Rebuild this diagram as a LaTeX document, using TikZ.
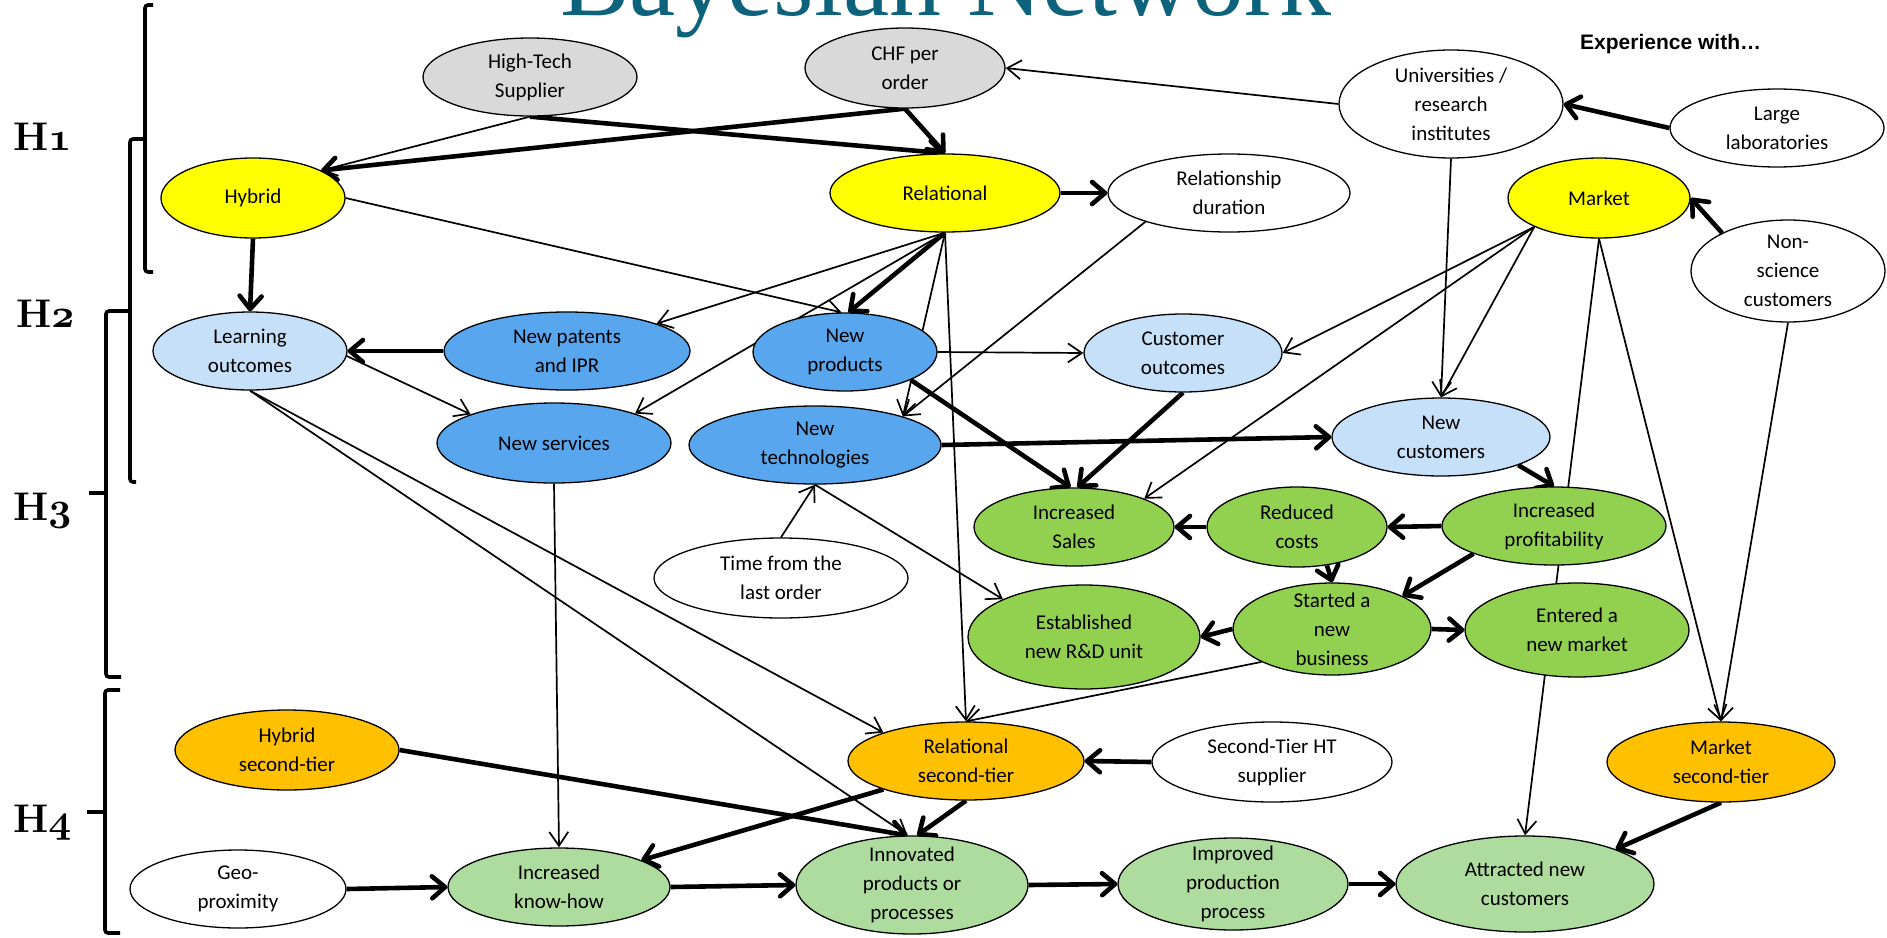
\documentclass[tikz,border=0pt]{standalone}
\usepackage{fontspec}
\usepackage{graphicx}
\usetikzlibrary{shapes.geometric,arrows.meta,backgrounds}
\newfontfamily\nodefont{Carlito}
\newfontfamily\capfont{Liberation Sans}
\newfontfamily\titlefont{Liberation Serif}
% old-style figures from the bold math italic font, set at 10pt and enlarged to 40bp
\newcommand{\osf}[1]{\scalebox{4.015}{\fontsize{10pt}{12pt}\usefont{OML}{cmm}{b}{it}#1}}
\definecolor{titleteal}{RGB}{14,99,124}
\definecolor{fillgrey}{RGB}{217,217,217}
\definecolor{fillyellow}{RGB}{255,255,0}
\definecolor{filllblue}{RGB}{198,224,249}
\definecolor{fillblue}{RGB}{88,166,238}
\definecolor{fillgreen}{RGB}{146,208,80}
\definecolor{filllgreen}{RGB}{174,220,158}
\definecolor{fillorange}{RGB}{255,192,0}
\begin{document}
\begin{tikzpicture}[x=1bp,y=-1bp,
  el/.style={ellipse, draw=black, line width=1.3bp, inner xsep=-10bp, inner ysep=-30bp,
    align=center, font=\nodefont\fontsize{21bp}{29bp}\selectfont},
  sz/.style 2 args={minimum width=#1, minimum height=#2},
  cgrey/.style={fill=fillgrey},
  cyel/.style={fill=fillyellow},
  clblue/.style={fill=filllblue},
  cblue/.style={fill=fillblue},
  cgreen/.style={fill=fillgreen},
  clgreen/.style={fill=filllgreen},
  corange/.style={fill=fillorange},
  cwhite/.style={fill=white},
  tn/.style={line width=1.7bp, -{Straight Barb[length=14bp, width=19bp]}},
  tk/.style={line width=4.6bp, -{Straight Barb[length=13bp, width=22bp, round]}},
  br/.style={line width=3.6bp, rounded corners=3bp},
  hl/.style={anchor=base west, inner sep=0pt, font=\rmfamily\bfseries\fontsize{40bp}{44bp}\selectfont}
]
\useasboundingbox (0,0) rectangle (1887,938);

% heading (runs off the top edge)
\node[anchor=base west, inner sep=0pt, text=titleteal,
  font=\titlefont\fontsize{104bp}{110bp}\selectfont] (title) at (560,15) {Bayesian Network};
\node[anchor=base west, inner sep=0pt,
  font=\capfont\bfseries\fontsize{21bp}{24bp}\selectfont] (exper) at (1580,49) {Experience with…};

% hypothesis brackets
\draw[br] (153,5) -- (145,5) -- (145,272) -- (153,272);
\draw[br] (145,139) -- (130,139) -- (130,482) -- (136,482);
\draw[br] (130,311) -- (106,311) -- (106,677) -- (121,677);
\draw[br] (106,493) -- (89,493);
\draw[br] (120,690) -- (105,690) -- (105,933) -- (120,933);
\draw[br] (105,812) -- (87,812);
\node[hl] (h1) at (13,150) {H\osf{1}};
\node[hl] (h2) at (16,327) {H\osf{2}};
\node[hl] (h3) at (13,520) {H\osf{3}};
\node[hl] (h4) at (13,832) {H\osf{4}};

% variables
\node[el,cgrey,sz={214bp}{78bp}] (ht) at (530,77) {High-Tech\\Supplier};
\node[el,cgrey,sz={200bp}{80bp}] (chf) at (905,68) {CHF per\\order};
\node[el,cwhite,sz={224bp}{108bp}] (univ) at (1451,104) {Universities /\\research\\institutes};
\node[el,cwhite,sz={214bp}{78bp}] (lab) at (1777,128) {Large\\laboratories};
\node[el,cyel,sz={184bp}{80bp}] (hyb) at (253,198) {Hybrid};
\node[el,cyel,sz={230bp}{78bp}] (rel) at (945,193) {Relational};
\node[el,cwhite,sz={242bp}{78bp}] (rd) at (1229,193) {Relationship\\duration};
\node[el,cyel,sz={182bp}{80bp}] (mkt) at (1599,198) {Market};
\node[el,cwhite,sz={194bp}{102bp}] (ns) at (1788,271) {Non-\\science\\customers};
\node[el,clblue,sz={194bp}{78bp}] (lo) at (250,351) {Learning\\outcomes};
\node[el,cblue,sz={246bp}{78bp}] (ipr) at (567,351) {New patents\\and IPR};
\node[el,cblue,sz={184bp}{78bp}] (np) at (845,352) {New\\products};
\node[el,clblue,sz={198bp}{78bp}] (co) at (1183,353) {Customer\\outcomes};
\node[el,cblue,sz={234bp}{80bp}] (nsv) at (554,443) {New services};
\node[el,cblue,sz={252bp}{78bp}] (nt) at (815,445) {New\\technologies};
\node[el,clblue,sz={218bp}{78bp}] (nc) at (1441,437) {New\\customers};
\node[el,cgreen,sz={200bp}{78bp}] (is) at (1074,527) {Increased\\Sales};
\node[el,cgreen,sz={180bp}{80bp}] (rc) at (1297,527) {Reduced\\costs};
\node[el,cgreen,sz={224bp}{78bp}] (ip) at (1554,526) {Increased\\profitability};
\node[el,cwhite,sz={254bp}{80bp}] (tflo) at (781,578) {Time from the\\last order};
\node[el,cgreen,sz={232bp}{104bp}] (est) at (1084,637) {Established\\new R\&D unit};
\node[el,cgreen,sz={198bp}{92bp}] (snb) at (1332,629) {Started a\\new\\business};
\node[el,cgreen,sz={224bp}{94bp}] (ent) at (1577,630) {Entered a\\new market};
\node[el,corange,sz={224bp}{80bp}] (hst) at (287,750) {Hybrid\\second-tier};
\node[el,corange,sz={236bp}{78bp}] (rst) at (966,761) {Relational\\second-tier};
\node[el,cwhite,sz={240bp}{80bp}] (stht) at (1272,762) {Second-Tier HT\\supplier};
\node[el,corange,sz={228bp}{80bp}] (mst) at (1721,762) {Market\\second-tier};
\node[el,cwhite,sz={216bp}{78bp}] (geo) at (238,889) {Geo-\\proximity};
\node[el,clgreen,sz={222bp}{78bp}] (ikh) at (559,887) {Increased\\know-how};
\node[el,clgreen,sz={232bp}{98bp}] (ipp) at (912,885) {Innovated\\products or\\processes};
\node[el,clgreen,sz={230bp}{92bp}] (imp) at (1233,884) {Improved\\production\\process};
\node[el,clgreen,sz={258bp}{96bp}] (anc) at (1525,884) {Attracted new\\customers};

% dependencies, drawn beneath the ellipses
\begin{scope}[on background layer]
\draw[tk] (chf.south) -- (hyb.22);
\draw[tn] (ht.south) -- (hyb.22);
\draw[tk] (ht.south) -- (rel.north);
\draw[tk] (chf.south) -- (rel.north);
\draw[tn] (univ.west) -- (chf.east);
\draw[tk] (lab.west) -- (univ.east);
\draw[tk] (ns.150) -- (mkt.east);
\draw[tk] (rel.east) -- (rd.west);
\draw[tk] (hyb.south) -- (lo.north);
\draw[tn] (hyb.east) -- (np.95);
\draw[tk] (rel.south) -- (np.85);
\draw[tn] (rel.south) -- (ipr.17);
\draw[tn] (rel.south) -- (nsv.20);
\draw[tn] (rel.south) -- (nt.18);
\draw[tn] (rd.199) -- (nt.18);
\draw[tn] (rel.south) -- (rst.north);
\draw[tn] (snb.205) -- (rst.north);
\draw[tn] (np.east) -- (co.west);
\draw[tk] (np.-23) -- (is.95);
\draw[tk] (co.south) -- (is.85);
\draw[tn] (mkt.204) -- (is.22);
\draw[tn] (mkt.204) -- (co.east);
\draw[tn] (mkt.204) -- (nc.north);
\draw[tn] (univ.south) -- (nc.north);
\draw[tn] (mkt.south) -- (anc.north);
\draw[tn] (mkt.south) -- (mst.north);
\draw[tn] (ns.south) -- (mst.north);
\draw[tk] (nt.east) -- (nc.west);
\draw[tk] (nc.-20) -- (ip.north);
\draw[tk] (ip.west) -- (rc.east);
\draw[tk] (rc.west) -- (is.east);
\draw[tk] (rc.-52) -- (snb.north);
\draw[tk] (ip.199) -- (snb.25);
\draw[tk] (snb.west) -- (est.east);
\draw[tk] (snb.east) -- (ent.west);
\draw[tn] (nt.south) -- (est.155);
\draw[tn] (tflo.north) -- (nt.south);
\draw[tn] (lo.-3) -- (nsv.161);
\draw[tk] (ipr.west) -- (lo.east);
\draw[tn] (lo.south) -- (rst.161);
\draw[tn] (lo.south) -- (ipp.95);
\draw[tn] (nsv.south) -- (ikh.north);
\draw[tk] (hst.east) -- (ipp.95);
\draw[tk] (rst.199) -- (ikh.18);
\draw[tk] (rst.south) -- (ipp.84);
\draw[tk] (stht.west) -- (rst.east);
\draw[tk] (geo.east) -- (ikh.west);
\draw[tk] (ikh.east) -- (ipp.west);
\draw[tk] (ipp.east) -- (imp.west);
\draw[tk] (imp.east) -- (anc.west);
\draw[tk] (mst.south) -- (anc.21);
\end{scope}
\end{tikzpicture}
\end{document}
